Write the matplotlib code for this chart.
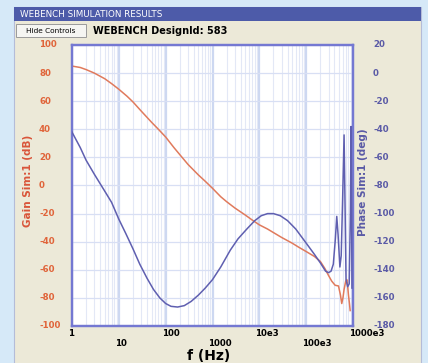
import matplotlib.pyplot as plt
import matplotlib.patches as mpatches
import matplotlib.transforms as mtransforms
from matplotlib.ticker import LogLocator, NullFormatter

# === 1. DATA ===

# Gain, Sim:1 (dB)
gain_freq = [1, 1.5, 2, 3, 5, 7, 10, 15, 20, 30, 50, 70, 100, 150, 200, 300,
             500, 700, 1000, 1500, 2000, 3000, 5000, 7000, 10e3, 15e3, 20e3,
             30e3, 50e3, 70e3, 100e3, 150e3, 200e3, 250e3, 300e3, 350e3,
             415e3, 490e3, 540e3, 575e3, 610e3, 645e3, 700e3, 740e3, 770e3,
             800e3, 840e3, 870e3]
gain_db = [85, 84, 82.5, 80, 76, 72.5, 68.5, 63.5, 59.5, 53, 45, 40, 34.5,
           27, 22, 15, 7.5, 3, -2, -8, -11.5, -16, -21, -24.5, -28, -31,
           -33.5, -37, -41, -44, -47, -50.5, -54, -59, -64, -68,
           -71, -71.5, -78, -84, -80, -74, -68, -67, -72,
           -78, -84, -89]

# Phase, Sim:1 (deg)
phase_freq = [1, 1.5, 2, 3, 5, 7, 10, 14, 20, 28, 40, 55, 75,
              100, 130, 180, 250, 350, 500, 700, 1000, 1500, 2400, 3500,
              5400, 8000, 11e3, 15e3, 20e3, 28e3, 40e3, 60e3, 100e3, 150e3,
              200e3, 260e3, 300e3, 340e3, 380e3, 420e3, 450e3, 480e3, 525e3,
              560e3, 600e3, 645e3, 680e3, 710e3, 770e3, 830e3, 880e3, 910e3,
              935e3, 950e3]
phase_deg = [-42, -53, -62, -72, -84, -92, -104, -114, -125, -136, -146,
             -154, -160, -164, -166, -166.5, -165.5, -162.5,
             -158, -153, -147, -138, -126, -118, -111, -105, -101.5, -100,
             -100, -101.5, -105, -111, -121, -129, -135, -141, -142, -141,
             -136, -118, -102, -115, -138, -130, -90, -44, -100, -147, -152,
             -150, -100, -38, -100, -153]

x_ticks = [1, 10, 100, 1000, 10e3, 100e3, 1e6]
x_labels = ["1", "10", "100", "1000", "10e3", "100e3", "1000e3"]
gain_ticks = list(range(-100, 101, 20))
phase_ticks = list(range(-180, 21, 20))

# === 2. COLOURS ===
bg_outer = "#d6e9f8"
bg_panel = "#ece9d8"
bar_blue = "#4d5ba9"
frame_col = "#7478d2"
gain_col = "#e07a5c"
phase_col = "#5f5fb0"
gain_txt = "#e0643a"
phase_txt = "#5a5aa6"

W, H = 428, 363
fig = plt.figure(figsize=(W / 100, H / 100), dpi=100)
fig.patch.set_facecolor(bg_outer)


def px_rect(x0, y0, x1, y1, **kw):
    # rectangle given in pixel coords, origin top-left
    r = mpatches.Rectangle((x0 / W, 1 - y1 / H), (x1 - x0) / W, (y1 - y0) / H,
                           transform=fig.transFigure, zorder=-10, **kw)
    fig.patches.append(r)


def px_text(x, y, s, **kw):
    fig.text(x / W, 1 - y / H, s, **kw)


# panel + title bar + controls
px_rect(14, 7, 421, 364, facecolor=bg_panel, edgecolor="#b4bcd8", lw=0.8)
px_rect(14, 7, 421, 21, facecolor=bar_blue, edgecolor="none")
px_text(20, 14.5, "WEBENCH SIMULATION RESULTS", color="white", fontsize=6.3,
        va="center", ha="left")
px_rect(16, 24, 86, 37, facecolor="#f5f5f2", edgecolor="#9a9a9a", lw=0.7)
px_text(51, 30.8, "Hide Controls", fontsize=5.3, va="center", ha="center")
px_text(93, 31, "WEBENCH DesignId: 583", fontsize=7, fontweight="bold",
        va="center", ha="left")

# === 3. PLOT ===
ax = fig.add_axes([72 / W, 1 - 326 / H, 281 / W, 281 / H])
ax.set_facecolor("white")
ax.set_xscale("log")
ax.set_xlim(1, 1e6)
ax.set_ylim(-100, 100)
ax.set_xticks(x_ticks)
ax.xaxis.set_minor_locator(LogLocator(base=10, subs=range(2, 10)))
ax.xaxis.set_minor_formatter(NullFormatter())
ax.set_yticks(gain_ticks)
ax.grid(which="major", axis="x", color="#cdd8f1", lw=1.6)
ax.grid(which="minor", axis="x", color="#e3e8f6", lw=0.8)
ax.grid(which="major", axis="y", color="#d8dff4", lw=0.9)
ax.tick_params(which="both", length=0, labelbottom=False, labelleft=False)

ax.plot(gain_freq, gain_db, color=gain_col, lw=1.1, zorder=3)

ax2 = ax.twinx()
ax2.set_ylim(-180, 20)
ax2.set_yticks(phase_ticks)
ax2.tick_params(length=0, labelright=False)
ax2.plot(phase_freq, phase_deg, color=phase_col, lw=1.1, zorder=3)

for a in (ax, ax2):
    for sp in a.spines.values():
        sp.set_color(frame_col)
        sp.set_linewidth(1.6)

# tick labels
def shift(dx, dy):
    return mtransforms.ScaledTranslation(dx / 100, dy / 100, fig.dpi_scale_trans)

for i, (xv, lab) in enumerate(zip(x_ticks, x_labels)):
    dy = -7 if i % 2 == 0 else -18
    ax.text(xv, 0, lab, transform=ax.get_xaxis_transform() + shift(-4, dy),
            ha="left", va="center", fontsize=6.2, fontweight="bold")

for g in gain_ticks:
    ax.text(0, g, str(g), transform=ax.get_yaxis_transform() + shift(-33, 0),
            ha="left", va="center", fontsize=6.2, fontweight="bold",
            color=gain_txt)

for p in phase_ticks:
    ax2.text(1, p, str(p), transform=ax2.get_yaxis_transform() + shift(20, 0),
             ha="left", va="center", fontsize=6.2, fontweight="bold",
             color=phase_txt)

# axis titles
px_text(28, 181, "Gain Sim:1 (dB)", rotation=90, fontsize=7.5,
        fontweight="bold", color="#d9553a", ha="center", va="center")
px_text(363, 182, "Phase Sim:1 (deg)", rotation=90, fontsize=7.5,
        fontweight="bold", color=phase_txt, ha="center", va="center")
px_text(209, 356, "f (Hz)", fontsize=10, fontweight="bold",
        ha="center", va="center")

fig.savefig("out.png", dpi=100, facecolor=fig.get_facecolor())
